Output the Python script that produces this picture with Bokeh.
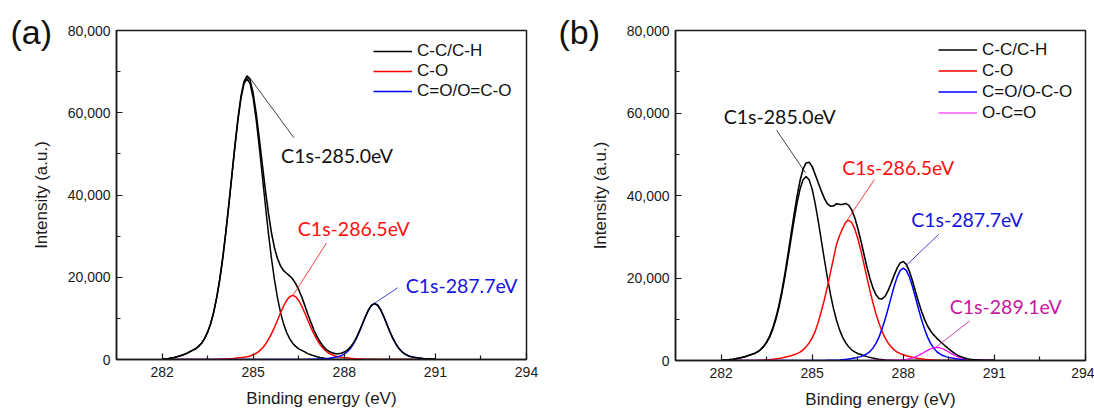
from bokeh.plotting import figure
from bokeh.layouts import row
from bokeh.models import (Range1d, FixedTicker, NumeralTickFormatter, Legend,
                          LegendItem, Title, ColumnDataSource)
from bokeh.core.properties import value
from bokeh.embed import file_html
from bokeh.resources import INLINE

# ---------------- data ----------------
energy = [282.0, 282.1, 282.2, 282.3, 282.4, 282.5, 282.6, 282.7, 282.8, 282.9,
          283.0, 283.1, 283.2, 283.3, 283.4, 283.5, 283.6, 283.7, 283.8, 283.9,
          284.0, 284.1, 284.2, 284.3, 284.4, 284.5, 284.6, 284.7, 284.8, 284.9,
          285.0, 285.1, 285.2, 285.3, 285.4, 285.5, 285.6, 285.7, 285.8, 285.9,
          286.0, 286.1, 286.2, 286.3, 286.4, 286.5, 286.6, 286.7, 286.8, 286.9,
          287.0, 287.1, 287.2, 287.3, 287.4, 287.5, 287.6, 287.7, 287.8, 287.9,
          288.0, 288.1, 288.2, 288.3, 288.4, 288.5, 288.6, 288.7, 288.8, 288.9,
          289.0, 289.1, 289.2, 289.3, 289.4, 289.5, 289.6, 289.7, 289.8, 289.9,
          290.0, 290.1, 290.2, 290.3, 290.4, 290.5, 290.6, 290.7, 290.8, 290.9,
          291.0]

# panel (a)
a_cc = [70, 140, 200, 340, 480, 680, 890, 1160, 1430, 1840,
        2220, 2600, 3190, 3960, 5080, 6620, 8670, 11470, 15030, 19400,
        24720, 30870, 37630, 44740, 51770, 58260, 63590, 67070, 68300, 67070,
        63590, 58260, 51770, 44740, 37630, 30870, 24720, 19400, 15030, 11470,
        8670, 6620, 5080, 3960, 3190, 2600, 2220, 1840, 1430, 1160,
        890, 680, 480, 340, 200, 140, 70, 30, 0, 0,
        0, 0, 0, 0, 0, 0, 0, 0, 0, 0,
        0, 0, 0, 0, 0, 0, 0, 0, 0, 0,
        0, 0, 0, 0, 0, 0, 0, 0, 0, 0,
        0]
a_co = [0, 0, 0, 0, 0, 0, 0, 0, 0, 0,
        0, 0, 0, 0, 10, 15, 25, 30, 55, 80,
        110, 140, 190, 230, 310, 410, 480, 560, 690, 870,
        1140, 1510, 2030, 2750, 3670, 4820, 6210, 7800, 9530, 11290,
        12960, 14350, 15270, 15600, 15270, 14350, 12960, 11290, 9530, 7800,
        6210, 4820, 3670, 2750, 2030, 1510, 1140, 870, 690, 560,
        480, 410, 310, 230, 190, 140, 110, 80, 55, 30,
        25, 15, 10, 0, 0, 0, 0, 0, 0, 0,
        0, 0, 0, 0, 0, 0, 0, 0, 0, 0,
        0]
a_cdo = [0, 0, 0, 0, 0, 0, 0, 0, 0, 0,
         0, 0, 0, 0, 0, 0, 0, 0, 0, 0,
         0, 0, 0, 0, 0, 0, 0, 0, 0, 0,
         0, 0, 0, 0, 0, 0, 0, 0, 0, 0,
         0, 0, 0, 0, 0, 7, 15, 27, 40, 60,
         80, 110, 150, 190, 245, 330, 430, 530, 690, 940,
         1320, 1880, 2680, 3770, 5150, 6800, 8620, 10440, 12060, 13190,
         13600, 13190, 12060, 10440, 8620, 6800, 5150, 3770, 2680, 1880,
         1320, 940, 690, 530, 430, 330, 245, 190, 150, 110,
         80]
a_env = [70, 140, 200, 340, 480, 680, 890, 1160, 1430, 1840,
         2220, 2600, 3190, 3960, 5090, 6635, 8695, 11500, 15085, 19480,
         24830, 31010, 37820, 44970, 52080, 58670, 64070, 67630, 68990, 67940,
         64730, 59770, 53800, 47490, 41300, 35690, 30930, 27200, 24560, 22760,
         21630, 20970, 20350, 19560, 18460, 16960, 15195, 13157, 11000, 9020,
         7180, 5610, 4300, 3280, 2475, 1980, 1640, 1430, 1380, 1500,
         1800, 2290, 2990, 4000, 5340, 6940, 8730, 10520, 12115, 13220,
         13625, 13205, 12070, 10440, 8620, 6800, 5150, 3770, 2680, 1880,
         1320, 940, 690, 530, 430, 330, 245, 190, 150, 110,
         80]
a_names = ["C-C/C-H", "C-O", "C=O/O=C-O"]

# panel (b)
b_cc = [45, 90, 130, 220, 310, 450, 580, 760, 940, 1200,
        1450, 1690, 2080, 2590, 3320, 4320, 5660, 7490, 9810, 12670,
        16150, 20160, 24570, 29210, 33810, 38040, 41520, 43800, 44600, 43800,
        41520, 38040, 33810, 29210, 24570, 20160, 16150, 12670, 9810, 7490,
        5660, 4320, 3320, 2590, 2080, 1690, 1450, 1200, 940, 760,
        580, 450, 310, 220, 130, 90, 45, 20, 0, 0,
        0, 0, 0, 0, 0, 0, 0, 0, 0, 0,
        0, 0, 0, 0, 0, 0, 0, 0, 0, 0,
        0, 0, 0, 0, 0, 0, 0, 0, 0, 0,
        0]
b_co = [0, 0, 0, 0, 0, 0, 0, 0, 0, 0,
        0, 15, 35, 70, 100, 170, 240, 320, 410, 510,
        610, 780, 950, 1160, 1390, 1670, 2040, 2580, 3300, 4250,
        5470, 7070, 9280, 11890, 14710, 17850, 21240, 24710, 28100, 30240,
        31960, 33460, 34000, 33460, 31960, 29650, 26760, 23530, 20230, 17000,
        14010, 11320, 9010, 7070, 5470, 4250, 3300, 2580, 2040, 1670,
        1390, 1160, 950, 780, 610, 510, 410, 320, 240, 170,
        100, 70, 35, 15, 0, 0, 0, 0, 0, 0,
        0, 0, 0, 0, 0, 0, 0, 0, 0, 0,
        0]
b_cdo = [0, 0, 0, 0, 0, 0, 0, 0, 0, 0,
         0, 0, 0, 0, 0, 0, 0, 0, 0, 0,
         0, 0, 0, 0, 0, 0, 0, 0, 0, 0,
         0, 0, 0, 10, 20, 35, 45, 70, 90, 130,
         200, 270, 340, 470, 630, 760, 940, 1210, 1590, 2170,
         3000, 4140, 5670, 7620, 9920, 12540, 15300, 17990, 20270, 21840,
         22400, 21840, 20270, 17990, 15300, 12540, 9920, 7620, 5670, 4140,
         3000, 2170, 1590, 1210, 940, 760, 630, 470, 340, 270,
         200, 130, 90, 70, 45, 35, 20, 10, 0, 0,
         0]
b_occ = [0, 0, 0, 0, 0, 0, 0, 0, 0, 0,
         0, 0, 0, 0, 0, 0, 0, 0, 0, 0,
         0, 0, 0, 0, 0, 0, 0, 0, 0, 0,
         0, 0, 0, 0, 0, 0, 0, 0, 0, 0,
         0, 0, 0, 0, 0, 0, 2, 3, 6, 10,
         14, 19, 26, 35, 45, 58, 77, 100, 125, 160,
         220, 310, 440, 630, 890, 1210, 1600, 2030, 2460, 2840,
         3100, 3200, 3100, 2840, 2460, 2030, 1600, 1210, 890, 630,
         440, 310, 220, 160, 125, 100, 77, 58, 45, 35,
         26]
b_env = [45, 90, 130, 220, 310, 450, 580, 760, 940, 1200,
         1450, 1705, 2115, 2660, 3420, 4490, 5900, 7810, 10220, 13180,
         16760, 20940, 25520, 30370, 35200, 39710, 43560, 46380, 47900, 48050,
         46990, 45110, 43090, 41110, 39300, 38045, 37435, 37450, 38000, 37860,
         37820, 38050, 37660, 36520, 34670, 32100, 29152, 25943, 22766, 19940,
         17604, 15929, 15016, 14945, 15565, 16938, 18722, 20690, 22435, 23670,
         24010, 23310, 21660, 19400, 16800, 14260, 11930, 9970, 8370, 7150,
         6200, 5440, 4725, 4065, 3400, 2790, 2230, 1680, 1230, 900,
         640, 440, 310, 230, 170, 135, 97, 68, 45, 35,
         26]
b_names = ["C-C/C-H", "C-O", "C=O/O-C-O", "O-C=O"]

for _arr in (a_cc, a_co, a_cdo, a_env, b_cc, b_co, b_cdo, b_occ, b_env):
    if len(_arr) != len(energy):
        raise ValueError("length mismatch %d" % len(_arr))

x_ticks = [282, 285, 288, 291, 294]
x_minor = [283.5, 286.5, 289.5, 292.5]
y_ticks = [0, 20000, 40000, 60000, 80000]
y_minor = [10000, 30000, 50000, 70000]

# annotations (text position and leader line ends, data units)
a_ann_text = ["C1s-285.0eV", "C1s-286.5eV", "C1s-287.7eV"]
a_ann_x = [285.92, 286.47, 290.02]
a_ann_y = [49610, 31860, 18000]
a_lead = dict(x0=[284.86, 286.30, 288.98], y0=[68800, 15450, 13600],
              x1=[286.34, 287.41, 289.76], y1=[53920, 28280, 17440])

b_ann_text = ["C1s-285.0eV", "C1s-286.5eV", "C1s-287.7eV", "C1s-289.1eV"]
b_ann_x = [282.09, 285.99, 288.26, 289.53]
b_ann_y = [59150, 46780, 34180, 13090]
b_lead = dict(x0=[283.83, 287.05, 289.17, 290.19], y0=[55820, 43870, 30610, 9620],
              x1=[284.78, 286.15, 288.07, 289.06], y1=[45500, 34010, 22860, 3150])

# ---------------- styling ----------------
AX_FONT = "Liberation Sans"
ANN_FONT = "Lato"
INK = "#1a1a1a"
BLACK, RED, BLUE, MAG = "#000000", "#FF0000", "#0000FF", "#FF00FF"
a_text_colors = ["#111111", "#FF1010", "#1414E0"]
b_text_colors = ["#111111", "#FF1010", "#1414E0", "#C8189C"]


def make_panel(tag, tag_offset, comps, comp_colors, comp_widths, names, env,
               ann_text, ann_x, ann_y, ann_colors, lead,
               left, right, top, bottom, frame_h, legend_loc, row_h):
    p = figure(frame_width=410, frame_height=frame_h,
               x_range=Range1d(280.5, 294), y_range=Range1d(0, 80000),
               output_backend="svg", toolbar_location=None,
               min_border_left=left, min_border_right=right,
               min_border_top=top, min_border_bottom=bottom)
    p.grid.visible = False
    p.outline_line_color = INK
    p.outline_line_width = 1.5

    for ax in (p.xaxis[0], p.yaxis[0]):
        ax.axis_line_color = INK
        ax.axis_line_width = 1.5
        ax.major_tick_in = 6
        ax.major_tick_out = 0
        ax.minor_tick_in = 4
        ax.minor_tick_out = 0
        ax.major_tick_line_color = INK
        ax.minor_tick_line_color = INK
        ax.major_tick_line_width = 1.2
        ax.minor_tick_line_width = 1.2
        ax.major_label_text_font = AX_FONT
        ax.major_label_text_font_size = "14px"
        ax.major_label_text_color = INK
        ax.axis_label_text_font = AX_FONT
        ax.axis_label_text_font_size = "17px"
        ax.axis_label_text_font_style = "normal"
        ax.axis_label_text_color = INK
    p.xaxis.ticker = FixedTicker(ticks=x_ticks, minor_ticks=x_minor)
    p.yaxis.ticker = FixedTicker(ticks=y_ticks, minor_ticks=y_minor)
    p.yaxis.formatter = NumeralTickFormatter(format="0,0")
    p.xaxis.axis_label = "Binding energy (eV)"
    p.yaxis.axis_label = "Intensity (a.u.)"
    p.xaxis.major_label_standoff = 7
    p.yaxis.major_label_standoff = 6
    p.xaxis.axis_label_standoff = 9
    p.yaxis.axis_label_standoff = 14

    rends = []
    for ys, c, w in zip(comps, comp_colors, comp_widths):
        rends.append(p.line(energy, ys, line_color=c, line_width=w))
    p.line(energy, env, line_color=BLACK, line_width=1.6)

    p.segment(x0=lead["x0"], y0=lead["y0"], x1=lead["x1"], y1=lead["y1"],
              line_color=ann_colors, line_width=0.8)
    src = ColumnDataSource(dict(x=ann_x, y=ann_y, t=ann_text, c=ann_colors))
    p.text(x="x", y="y", text="t", text_color="c", source=src,
           text_font=value(ANN_FONT), text_font_size=value("19.5px"),
           text_align="left", text_baseline="middle")

    legend = Legend(items=[LegendItem(label=n, renderers=[r]) for n, r in zip(names, rends)],
                    location=legend_loc, padding=0, margin=0, spacing=0,
                    glyph_width=39, glyph_height=row_h, label_height=row_h,
                    label_standoff=5, border_line_color=None,
                    background_fill_alpha=0,
                    label_text_font=AX_FONT, label_text_font_size="17px",
                    label_text_color="#111111")
    p.add_layout(legend)

    # panel tag "(a)" / "(b)" placed outside the frame, top-left
    p.add_layout(Title(text=tag, align="left", offset=tag_offset, standoff=-40,
                       vertical_align="bottom", text_font=AX_FONT,
                       text_font_size="34px", text_font_style="normal",
                       text_color="#111111"), "above")
    return p


pa = make_panel("(a)", -106, [a_cc, a_co, a_cdo], [BLACK, RED, BLUE], [1.5, 1.5, 1.5],
                a_names, a_env,
                a_ann_text, a_ann_x, a_ann_y, a_text_colors, a_lead,
                left=116, right=24, top=30, bottom=49, frame_h=329,
                legend_loc=(257, 258), row_h=20)

pb = make_panel("(b)", -117, [b_cc, b_co, b_cdo, b_occ], [BLACK, RED, BLUE, MAG],
                [1.5, 1.5, 1.5, 1.2], b_names, b_env,
                b_ann_text, b_ann_x, b_ann_y, b_text_colors, b_lead,
                left=125, right=9, top=27, bottom=51, frame_h=330,
                legend_loc=(263, 237), row_h=21)

layout = row(pa, pb)
open("out.html", "w").write(file_html(layout, INLINE))
